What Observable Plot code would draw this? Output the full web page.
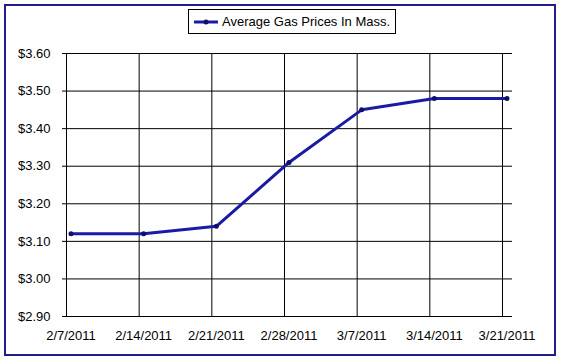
<!DOCTYPE html>
<html>
<head>
<meta charset="utf-8">
<script src="https://cdn.jsdelivr.net/npm/d3@7"></script>
<script src="https://cdn.jsdelivr.net/npm/@observablehq/plot@0.6"></script>
<style>
  html, body { margin: 0; padding: 0; background: #fff; }
  #wrap { position: relative; width: 561px; height: 361px; overflow: hidden; }
  #border { position: absolute; left: 4px; top: 4px; width: 548px; height: 348px; border: 2px solid #1f1f8c; pointer-events: none; }
  #legend { position: absolute; left: 188px; top: 9px; height: 23px; padding: 0 5px 0 4px; border: 1px solid #000; background: #fff;
    display: flex; align-items: center; font: 13px "Liberation Sans", Arial, sans-serif; color: #000; white-space: nowrap; }
  #legend svg { margin-right: 3px; }
</style>
</head>
<body>
<div id="wrap">
  <div id="chart"></div>
  <div id="legend"></div>
  <div id="border"></div>
</div>
<script>
const dates = ["2011-02-07", "2011-02-14", "2011-02-21", "2011-02-28", "2011-03-07", "2011-03-14", "2011-03-21"];
const prices = [3.12, 3.12, 3.14, 3.31, 3.45, 3.48, 3.48];
const yTicks = [2.90, 3.00, 3.10, 3.20, 3.30, 3.40, 3.50, 3.60];
const seriesName = "Average Gas Prices In Mass.";

const lineColor = "#1a1aa6";
const data = dates.map((d, i) => ({date: new Date(d + "T00:00:00Z"), price: prices[i]}));
const tickDates = data.map(d => d.date);

const fmtDate = d3.utcFormat("%-m/%-d/%Y");

const plot = Plot.plot({
  width: 561,
  height: 361,
  marginLeft: 66,
  marginRight: 49,
  marginTop: 53,
  marginBottom: 45,
  style: {fontFamily: "'Liberation Sans', Arial, sans-serif", fontSize: "13px", color: "#000", background: "#fff"},
  x: {type: "utc", domain: [tickDates[0], tickDates[tickDates.length - 1]], insetLeft: 4.5, insetRight: 5.5},
  y: {domain: [2.9, 3.6]},
  marks: [
    Plot.ruleY(yTicks, {stroke: "#000", strokeWidth: 1}),
    Plot.ruleX(tickDates, {stroke: "#000", strokeWidth: 1, dx: -4.5}),
    Plot.axisY({ticks: yTicks, tickSize: 4, tickPadding: 12, tickFormat: d => "$" + d.toFixed(2), stroke: "#000", label: null, strokeOpacity: 1}),
    Plot.axisX({ticks: tickDates, tickSize: 0, tickPadding: 14, tickFormat: fmtDate, label: null}),
    Plot.line(data, {x: "date", y: "price", stroke: lineColor, strokeWidth: 3}),
    Plot.dot(data, {x: "date", y: "price", r: 2.5, fill: "#10106a", stroke: "none"})
  ]
});
document.getElementById("chart").appendChild(plot);

const legend = document.getElementById("legend");
legend.innerHTML = `<svg width="26" height="8"><line x1="1" y1="4" x2="25" y2="4" stroke="${lineColor}" stroke-width="3"/><circle cx="13" cy="4" r="2.5" fill="#10106a"/></svg><span></span>`;
legend.querySelector("span").textContent = seriesName;
</script>
</body>
</html>
